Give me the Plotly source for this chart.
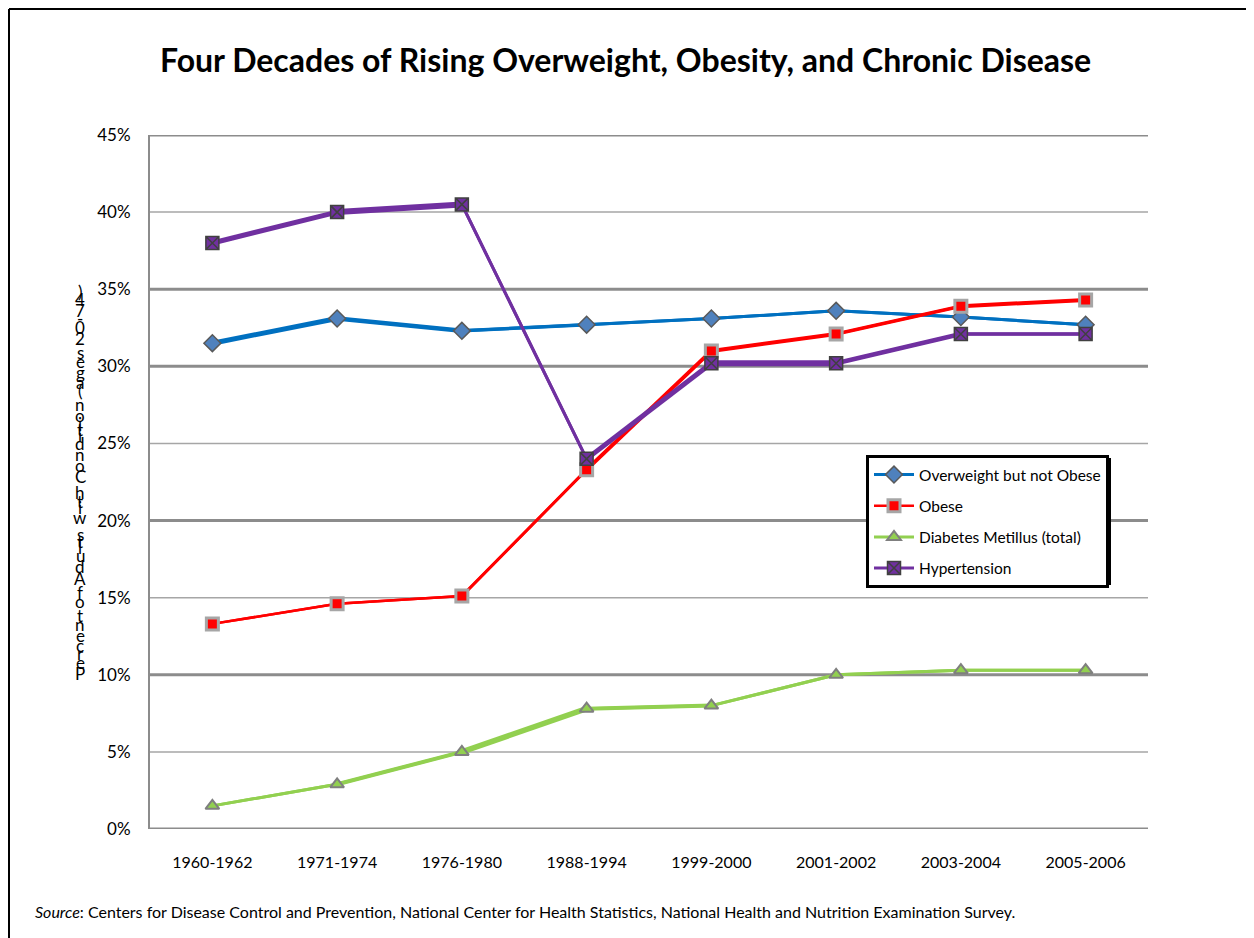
import plotly.graph_objects as go

# ---------------- data ----------------
periods = ["1960-1962", "1971-1974", "1976-1980", "1988-1994",
           "1999-2000", "2001-2002", "2003-2004", "2005-2006"]
overweight = [31.5, 33.1, 32.3, 32.7, 33.1, 33.6, 33.2, 32.7]
obese = [13.3, 14.6, 15.1, 23.3, 31.0, 32.1, 33.9, 34.3]
diabetes = [1.5, 2.9, 5.0, 7.8, 8.0, 10.0, 10.3, 10.3]
hypertension = [38.0, 40.0, 40.5, 24.0, 30.2, 30.2, 32.1, 32.1]
series_names = ["Overweight but not Obese", "Obese",
                "Diabetes Metillus (total)", "Hypertension"]
y_tick_vals = [0, 5, 10, 15, 20, 25, 30, 35, 40, 45]
y_tick_text = ["0%", "5%", "10%", "15%", "20%", "25%", "30%", "35%", "40%", "45%"]

title_text = "Four Decades of Rising Overweight, Obesity, and Chronic Disease"
y_title = "Percent of Adults with Condition (ages 20-74)"
source_text = ("<i>Source</i>: Centers for Disease Control and Prevention, National Center for "
               "Health Statistics, National Health and Nutrition Examination Survey.")

# ---------------- styles ----------------
OFF = 8                      # page body margin
W, H = 1246, 930
FONT = "Lato"
colors = ["#0070C0", "#FF0000", "#92D050", "#7030A0"]
seg_widths = [
    [5, 4.5, 3.5, 3, 3, 3, 3],
    [2.5, 2.5, 3, 4, 4, 3.5, 4],
    [3, 4, 5.5, 4, 3, 3, 3],
    [5, 6, 3, 5, 6, 4.5, 3.5],
]
markers = [
    dict(symbol="diamond", size=13, color="#4F81BD", line=dict(color="#595959", width=1.5)),
    dict(symbol="square", size=12, color="#FF0000", line=dict(color="#A6A6A6", width=3)),
    dict(symbol="triangle-up", size=12, color="#92D050", line=dict(color="#7F7F7F", width=2)),
    dict(symbol="square-x", size=13, color="#7030A0", line=dict(color="#404040", width=1.5)),
]
thick_grid = [0, 10, 20, 30, 35, 45]
thin_grid = [5, 15, 25, 40]


def px(x):
    return (x - OFF) / W


def py(y):
    return 1 - (y - OFF) / H


# plot area in reference pixels
xdom = [px(150), px(1148)]
ydom = [py(829), py(135)]

fig = go.Figure()
all_series = [overweight, obese, diabetes, hypertension]
for k, vals in enumerate(all_series):
    for i in range(len(periods) - 1):
        fig.add_trace(go.Scatter(
            x=periods[i:i + 2], y=vals[i:i + 2], mode="lines",
            line=dict(color=colors[k], width=seg_widths[k][i]),
            showlegend=False, hoverinfo="skip"))
    fig.add_trace(go.Scatter(
        x=periods, y=vals, mode="lines+markers", name=series_names[k],
        legendgroup=series_names[k],
        line=dict(color=colors[k], width=min(seg_widths[k])),
        marker=markers[k]))

shapes = []
for g in thin_grid:
    shapes.append(dict(type="line", xref="paper", yref="y", x0=xdom[0], x1=xdom[1],
                       y0=g, y1=g, line=dict(color="#A6A6A6", width=1.5), layer="below"))
for g in thick_grid:
    shapes.append(dict(type="line", xref="paper", yref="y", x0=xdom[0], x1=xdom[1],
                       y0=g, y1=g, line=dict(color="#8C8C8C", width=3), layer="below"))
# outer border (left, top, right)
bl, bt, br = px(9), py(9), px(1247)
shapes.append(dict(type="line", xref="paper", yref="paper", x0=bl, x1=bl, y0=0, y1=bt,
                   line=dict(color="black", width=2)))
shapes.append(dict(type="line", xref="paper", yref="paper", x0=bl, x1=br, y0=bt, y1=bt,
                   line=dict(color="black", width=2)))
shapes.append(dict(type="line", xref="paper", yref="paper", x0=br, x1=br, y0=0, y1=bt,
                   line=dict(color="black", width=2)))
# legend drop shadow (legend box itself is drawn on top)
shapes.append(dict(type="rect", xref="paper", yref="paper", x0=px(869), x1=px(1111),
                   y0=py(585), y1=py(458), fillcolor="black", line=dict(width=0)))

annotations = [
    dict(text="<b>" + title_text + "</b>", x=px(625), y=py(60), xref="paper", yref="paper",
         showarrow=False, xanchor="center", yanchor="middle",
         font=dict(family=FONT, size=32, color="black")),
    dict(text=source_text, x=px(33), y=py(911), xref="paper", yref="paper",
         showarrow=False, xanchor="left", yanchor="middle",
         font=dict(family=FONT, size=16, color="black")),
]

# stacked (garbled) vertical axis title, one upright character per line
cw = {" ": .226, "P": .517, "e": .498, "r": .349, "c": .423, "n": .525, "t": .335,
      "o": .527, "f": .305, "A": .579, "d": .525, "u": .525, "l": .229, "s": .391,
      "w": .715, "i": .229, "h": .525, "C": .533, "(": .303, ")": .303, "a": .479,
      "g": .471, "2": .507, "0": .507, "-": .306, "7": .507, "4": .507}
chars = list(reversed(y_title))
widths = [cw.get(c, .5) for c in chars]
centers = []
acc = 0
for i, w in enumerate(widths):
    if i == 0:
        centers.append(0)
    else:
        acc += (widths[i - 1] + w) / 2
        centers.append(acc)
top_c, bot_c = 291, 673
scale = (bot_c - top_c) / centers[-1]
for c, pos in zip(chars, centers):
    if c == " ":
        continue
    ypix = top_c + pos * scale
    annotations.append(dict(text=c, x=px(80), y=py(ypix), xref="paper", yref="paper",
                            showarrow=False, xanchor="center", yanchor="middle",
                            font=dict(family=FONT, size=17, color="black")))

fig.update_layout(
    width=W, height=H,
    margin=dict(l=0, r=0, t=0, b=0, pad=0, autoexpand=False),
    paper_bgcolor="white", plot_bgcolor="white",
    font=dict(family=FONT, color="black"),
    xaxis=dict(domain=xdom, type="category", range=[-0.5, 7.5], automargin=False,
               showgrid=False, zeroline=False, showline=False, ticks="",
               tickfont=dict(family=FONT, size=16, color="black"),
               ticklabelstandoff=22),
    yaxis=dict(domain=ydom, range=[0, 45], tickvals=y_tick_vals, ticktext=y_tick_text,
               automargin=False,
               showgrid=False, zeroline=False, showline=True, linecolor="#8C8C8C",
               linewidth=2, ticks="", tickfont=dict(family=FONT, size=17, color="black"),
               ticklabelstandoff=14),
    legend=dict(x=px(866), y=py(455), xanchor="left", yanchor="top",
                bgcolor="white", bordercolor="black", borderwidth=3,
                font=dict(family=FONT, size=15.5, color="black"),
                itemwidth=40, tracegroupgap=8, traceorder="grouped"),
    shapes=shapes,
    annotations=annotations,
)

fig.write_html("out.html")
